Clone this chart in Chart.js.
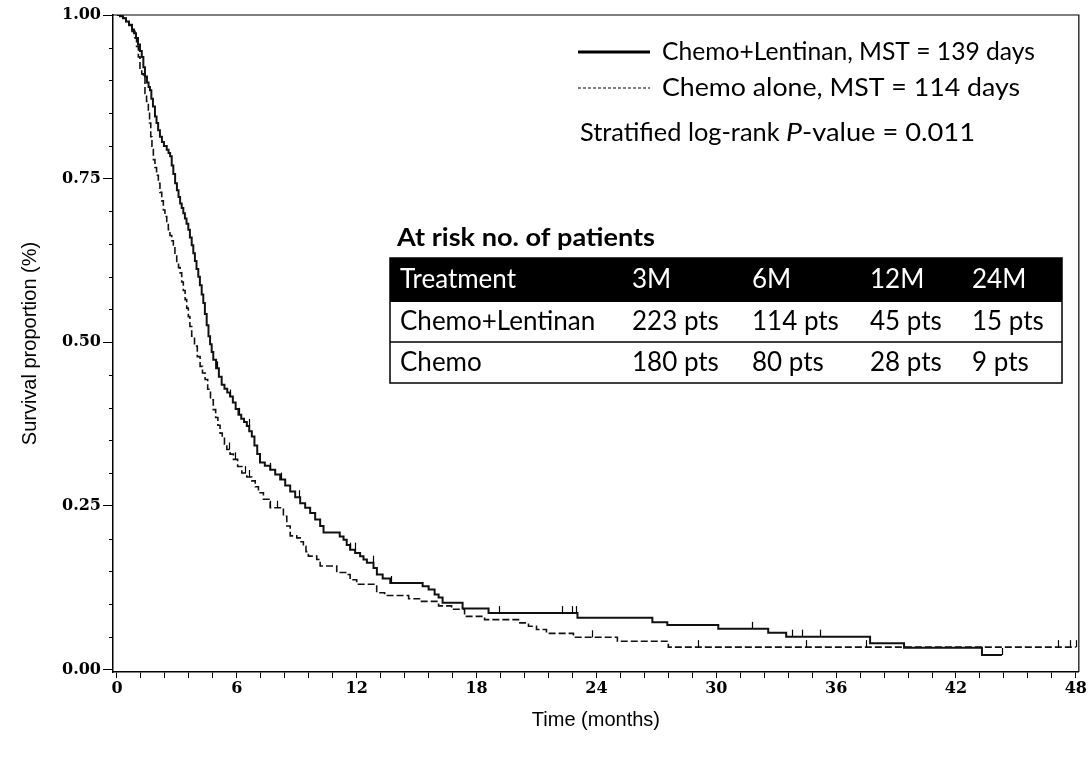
<!DOCTYPE html>
<html lang="en">
<head>
    <meta charset="UTF-8">
    <title>Survival curves</title>
    <script src="https://cdn.jsdelivr.net/npm/chart.js"></script>
    <style>
        body {
            margin: 0;
            background: #fff;
        }
    </style>
</head>
<body>
<canvas id="kmChart" width="1088" height="760"></canvas>
<script>
    // Chemo+Lentinan (solid), months / survival proportion
    const lentTimes = [0, 0.15, 0.3, 0.45, 0.6, 0.75, 0.85, 0.95, 1.05, 1.15, 1.24, 1.32, 1.40, 1.50, 1.58, 1.65, 1.72, 1.80, 1.90, 1.98,
        2.06, 2.15, 2.25, 2.35, 2.49, 2.58, 2.66, 2.74, 2.82, 2.91, 3.0, 3.08, 3.16, 3.24, 3.32, 3.40, 3.48, 3.57, 3.65, 3.74,
        3.82, 3.90, 3.98, 4.07, 4.15, 4.24, 4.32, 4.40, 4.49, 4.58, 4.66, 4.74, 4.82, 4.96, 5.10, 5.24, 5.38, 5.52, 5.66, 5.80,
        5.94, 6.08, 6.22, 6.36, 6.50, 6.62, 6.75, 6.88, 7.02, 7.16, 7.40, 7.67, 7.92, 8.17, 8.42, 8.67, 8.92, 9.17, 9.42, 9.67,
        9.92, 10.17, 10.34, 11.15, 11.34, 11.5, 11.67, 11.92, 12.17, 12.34, 12.51, 12.84, 13.01, 13.3, 13.68, 15.3, 15.6, 15.9, 16.1, 16.3,
        17.3, 18.6, 23.05, 26.8, 27.55, 30.1, 32.6, 33.5, 37.7, 39.4, 43.3, 44.3];
    const lentSurv = [1.0, 0.998, 0.995, 0.99, 0.985, 0.978, 0.972, 0.965, 0.955, 0.945, 0.936, 0.92, 0.906, 0.897, 0.89, 0.885, 0.872, 0.86, 0.845, 0.835,
        0.824, 0.814, 0.806, 0.80, 0.794, 0.789, 0.784, 0.77, 0.757, 0.743, 0.732, 0.722, 0.712, 0.705, 0.697, 0.689, 0.681, 0.672, 0.66, 0.648,
        0.636, 0.624, 0.612, 0.600, 0.587, 0.573, 0.560, 0.543, 0.526, 0.509, 0.497, 0.485, 0.473, 0.46, 0.447, 0.435, 0.429, 0.423, 0.417, 0.408,
        0.398, 0.389, 0.383, 0.378, 0.372, 0.364, 0.356, 0.342, 0.329, 0.316, 0.311, 0.305, 0.298, 0.290, 0.281, 0.272, 0.263, 0.254, 0.247, 0.239,
        0.229, 0.219, 0.209, 0.203, 0.198, 0.19, 0.183, 0.178, 0.173, 0.168, 0.163, 0.155, 0.145, 0.139, 0.132, 0.127, 0.122, 0.1145, 0.110, 0.102,
        0.093, 0.086, 0.079, 0.072, 0.068, 0.062, 0.056, 0.050, 0.040, 0.033, 0.022, 0.022];

    // Chemo alone (dashed)
    const chemoTimes = [0, 0.15, 0.3, 0.45, 0.6, 0.75, 0.9, 0.98, 1.07, 1.15, 1.24, 1.32, 1.40, 1.48, 1.57, 1.63, 1.69, 1.75, 1.82, 1.90,
        1.98, 2.07, 2.15, 2.24, 2.32, 2.40, 2.49, 2.57, 2.65, 2.74, 2.82, 2.90, 2.99, 3.08, 3.16, 3.24, 3.32, 3.41, 3.49, 3.57,
        3.65, 3.74, 3.88, 4.02, 4.16, 4.28, 4.41, 4.54, 4.68, 4.82, 4.94, 5.05, 5.16, 5.27, 5.38, 5.50, 5.66, 5.83, 6.04, 6.25,
        6.50, 6.75, 6.92, 7.08, 7.33, 7.67, 8.33, 8.50, 8.67, 9.0, 9.17, 9.33, 9.46, 9.58, 10.0, 10.17, 11.0, 11.5, 11.67, 12.0,
        13.0, 13.4, 14.6, 15.2, 16.1, 16.75, 17.4, 18.4, 20.1, 20.6, 21.0, 21.5, 22.85, 25.05, 27.6, 48.0];
    const chemoSurv = [1.0, 0.998, 0.995, 0.99, 0.984, 0.975, 0.965, 0.952, 0.936, 0.916, 0.91, 0.906, 0.880, 0.868, 0.855, 0.835, 0.814, 0.797, 0.779, 0.767,
        0.755, 0.743, 0.729, 0.716, 0.702, 0.692, 0.682, 0.672, 0.663, 0.655, 0.646, 0.634, 0.621, 0.614, 0.606, 0.592, 0.579, 0.565, 0.552, 0.539,
        0.524, 0.509, 0.494, 0.478, 0.463, 0.453, 0.443, 0.428, 0.412, 0.397, 0.385, 0.373, 0.361, 0.353, 0.344, 0.336, 0.329, 0.321, 0.31, 0.300,
        0.294, 0.288, 0.279, 0.270, 0.260, 0.247, 0.234, 0.219, 0.204, 0.201, 0.195, 0.188, 0.18, 0.173, 0.168, 0.158, 0.148, 0.145, 0.137, 0.130,
        0.117, 0.113, 0.108, 0.104, 0.097, 0.092, 0.081, 0.076, 0.071, 0.066, 0.061, 0.055, 0.049, 0.043, 0.034, 0.034];

    // censored observations (months)
    const lentCensor = [5.0, 5.66, 6.1, 6.6, 7.67, 8.2, 9.1, 11.67, 11.9, 12.8, 13.7, 19.1, 22.3, 22.8, 23.0, 31.8, 33.8, 34.3, 35.2, 44.3];
    const chemoCensor = [5.6, 5.9, 6.4, 6.6, 7.67, 8.0, 23.8, 29.1, 34.5, 37.5, 47.1, 47.7, 48.0];

    // axes
    const xMajorTicks = [0, 6, 12, 18, 24, 30, 36, 42, 48];
    const xMinorStep = 1.2;
    const yMajorTicks = [0, 0.25, 0.5, 0.75, 1.0];
    const yMinorStep = 0.05;

    // legend and at-risk table
    const legendLabels = ['Chemo+Lentinan, MST = 139 days', 'Chemo alone, MST = 114 days'];
    const riskTitle = 'At risk no. of patients';
    const riskHeader = ['Treatment', '3M', '6M', '12M', '24M'];
    const riskLent = ['Chemo+Lentinan', '223 pts', '114 pts', '45 pts', '15 pts'];
    const riskChemo = ['Chemo', '180 pts', '80 pts', '28 pts', '9 pts'];

    const TEXT_FONT = 'Lato, "Open Sans", sans-serif';

    function toPoints(times, surv) {
        return times.map((t, i) => ({x: t, y: surv[i]}));
    }

    function survAt(times, surv, t) {
        let s = surv[0];
        for (let i = 0; i < times.length; i++) {
            if (times[i] <= t + 1e-9) s = surv[i];
        }
        return s;
    }

    // draw text stretched horizontally to a given width
    function fitText(ctx, text, x, y, width) {
        const w = ctx.measureText(text).width;
        ctx.save();
        ctx.translate(x, y);
        ctx.scale(width / w, 1);
        ctx.fillText(text, 0, 0);
        ctx.restore();
        return width;
    }

    const kmExtras = {
        id: 'kmExtras',
        afterDatasetsDraw(chart) {
            const {ctx, chartArea: a, scales: {x, y}} = chart;
            ctx.save();
            ctx.strokeStyle = '#000';

            // top and right frame
            ctx.lineWidth = 1.2;
            ctx.beginPath();
            ctx.moveTo(a.left, a.top);
            ctx.lineTo(a.right, a.top);
            ctx.lineTo(a.right, a.bottom);
            ctx.stroke();

            // y minor ticks
            ctx.lineWidth = 1;
            for (let v = yMinorStep; v < 1; v += yMinorStep) {
                const r = Math.round(v * 100) / 100;
                if (yMajorTicks.includes(r)) continue;
                const py = Math.round(y.getPixelForValue(r)) + 0.5;
                ctx.beginPath();
                ctx.moveTo(a.left - 4, py);
                ctx.lineTo(a.left, py);
                ctx.stroke();
            }

            // censor marks
            ctx.lineWidth = 1.2;
            const marks = [[lentCensor, lentTimes, lentSurv], [chemoCensor, chemoTimes, chemoSurv]];
            marks.forEach(([cens, times, surv]) => {
                cens.forEach(t => {
                    const px = Math.round(x.getPixelForValue(t)) + 0.5;
                    const py = y.getPixelForValue(survAt(times, surv, t));
                    ctx.beginPath();
                    ctx.moveTo(px, py);
                    ctx.lineTo(px, py - 7);
                    ctx.stroke();
                });
            });
            ctx.restore();
        },
        afterDraw(chart) {
            const ctx = chart.ctx;
            ctx.save();
            ctx.fillStyle = '#000';
            ctx.textBaseline = 'middle';
            ctx.textAlign = 'left';

            // legend
            ctx.strokeStyle = '#000';
            ctx.lineWidth = 3;
            ctx.beginPath();
            ctx.moveTo(578, 52);
            ctx.lineTo(650, 52);
            ctx.stroke();
            ctx.lineWidth = 1.2;
            ctx.setLineDash([3, 2]);
            ctx.beginPath();
            ctx.moveTo(578, 88);
            ctx.lineTo(650, 88);
            ctx.stroke();
            ctx.setLineDash([]);

            ctx.font = '25px ' + TEXT_FONT;
            fitText(ctx, legendLabels[0], 662, 52, 373);
            fitText(ctx, legendLabels[1], 662, 88, 358);

            // p-value with italic P
            let px = 580;
            const pre = 'Stratified log-rank ';
            px += fitText(ctx, pre, px, 133, 206);
            ctx.font = 'italic 25px ' + TEXT_FONT;
            px += fitText(ctx, 'P', px, 133, 16);
            ctx.font = '25px ' + TEXT_FONT;
            fitText(ctx, '-value = 0.011', px, 133, 975 - px);

            // at-risk table
            ctx.font = 'bold 25px ' + TEXT_FONT;
            fitText(ctx, riskTitle, 397, 238, 258);

            const colX = [400, 632, 752, 870, 972];
            const tLeft = 390, tRight = 1062, tTop = 258, hBot = 302, rMid = 342, tBot = 383;
            ctx.fillRect(tLeft, tTop, tRight - tLeft, hBot - tTop);
            ctx.font = '26px ' + TEXT_FONT;
            ctx.fillStyle = '#fff';
            riskHeader.forEach((s, i) => ctx.fillText(s, colX[i], (tTop + hBot) / 2));
            ctx.fillStyle = '#000';
            riskLent.forEach((s, i) => ctx.fillText(s, colX[i], (hBot + rMid) / 2));
            riskChemo.forEach((s, i) => ctx.fillText(s, colX[i], (rMid + tBot) / 2));

            ctx.lineWidth = 1.5;
            ctx.strokeRect(tLeft, tTop, tRight - tLeft, tBot - tTop);
            ctx.beginPath();
            ctx.moveTo(tLeft, rMid);
            ctx.lineTo(tRight, rMid);
            ctx.stroke();
            ctx.restore();
        }
    };

    const tickFont = {family: '"DejaVu Serif", serif', size: 16, weight: 'bold'};
    const titleFont = {family: '"Liberation Sans", Arial, sans-serif', size: 20};

    new Chart(document.getElementById('kmChart').getContext('2d'), {
        type: 'line',
        data: {
            datasets: [{
                label: legendLabels[0],
                data: toPoints(lentTimes, lentSurv),
                stepped: true,
                borderColor: '#111',
                borderWidth: 2,
                pointRadius: 0,
                fill: false
            }, {
                label: legendLabels[1],
                data: toPoints(chemoTimes, chemoSurv),
                stepped: true,
                borderColor: '#111',
                borderWidth: 1.6,
                borderDash: [7, 3],
                pointRadius: 0,
                fill: false
            }]
        },
        options: {
            responsive: false,
            animation: false,
            layout: {padding: {top: 15, right: 8, left: 0, bottom: 0}},
            plugins: {
                legend: {display: false},
                tooltip: {enabled: false}
            },
            scales: {
                x: {
                    type: 'linear',
                    min: -0.2,
                    max: 48.15,
                    afterBuildTicks: scale => {
                        const ticks = [];
                        for (let i = 0; i * xMinorStep <= 48 + 1e-9; i++) {
                            ticks.push({value: Math.round(i * xMinorStep * 10) / 10});
                        }
                        scale.ticks = ticks;
                    },
                    afterFit: scale => { scale.height = 88; },
                    ticks: {
                        autoSkip: false,
                        maxRotation: 0,
                        padding: 1,
                        color: '#000',
                        font: tickFont,
                        callback: v => xMajorTicks.includes(v) ? String(v) : ''
                    },
                    grid: {drawOnChartArea: false, tickLength: 6, color: '#000', tickColor: '#000'},
                    border: {display: true, color: '#000', width: 1.5},
                    title: {
                        display: true,
                        text: 'Time (months)',
                        color: '#000',
                        font: titleFont,
                        padding: {top: 0, bottom: 28}
                    }
                },
                y: {
                    min: -0.004,
                    max: 1.0,
                    afterBuildTicks: scale => {
                        scale.ticks = yMajorTicks.map(v => ({value: v}));
                    },
                    afterFit: scale => { scale.width = 113; },
                    ticks: {
                        padding: 2,
                        color: '#000',
                        font: tickFont,
                        callback: v => v.toFixed(2)
                    },
                    grid: {drawOnChartArea: false, tickLength: 10, color: '#000', tickColor: '#000'},
                    border: {display: true, color: '#000', width: 1.5},
                    title: {
                        display: true,
                        text: 'Survival proportion (%)',
                        color: '#000',
                        font: titleFont,
                        padding: {top: 18, bottom: 0}
                    }
                }
            }
        },
        plugins: [kmExtras]
    });
</script>
</body>
</html>
